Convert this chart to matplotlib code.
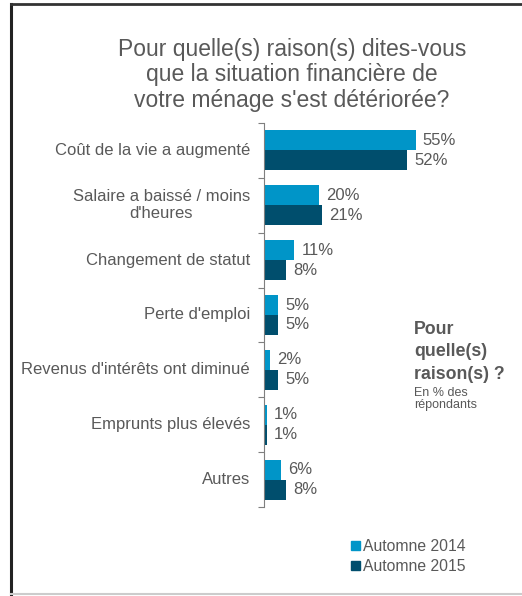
import matplotlib.pyplot as plt
import numpy as np
from matplotlib.patches import Patch
from matplotlib.lines import Line2D

plt.rcParams['font.family'] = ['Liberation Sans', 'DejaVu Sans']

categories = ["Coût de la vie a augmenté", "Salaire a baissé / moins\nd'heures",
              "Changement de statut", "Perte d'emploi",
              "Revenus d'intérêts ont diminué", "Emprunts plus élevés", "Autres"]
automne_2014 = [55, 20, 11, 5, 2, 1, 6]
automne_2015 = [52, 21, 8, 5, 5, 1, 8]
series_labels = ["Automne 2014", "Automne 2015"]

c14 = '#0095C8'
c15 = '#004E6D'
grey = '#595959'

fig = plt.figure(figsize=(5.22, 5.96), dpi=100)
ax = fig.add_axes([264/522, 89/596, 251/522, 384/596])

y = np.arange(len(categories))
h = 0.364
ax.barh(y - h/2, automne_2014, height=h, color=c14)
ax.barh(y + h/2, automne_2015, height=h, color=c15)
for i in range(len(categories)):
    ax.text(automne_2014[i] + 2.6, y[i] - h/2, f"{automne_2014[i]}%", va='center',
            ha='left', fontsize=12, color=grey)
    ax.text(automne_2015[i] + 2.6, y[i] + h/2, f"{automne_2015[i]}%", va='center',
            ha='left', fontsize=12, color=grey)

ax.set_xlim(0, 91)
ax.set_ylim(len(categories) - 0.5, -0.5)
for s in ['top', 'right', 'bottom']:
    ax.spines[s].set_visible(False)
ax.spines['left'].set_color('#7f7f7f')
ax.set_xticks([])
ax.set_yticks(np.arange(-0.5, len(categories), 1))
ax.set_yticklabels([])
ax.tick_params(axis='y', length=4, color='#7f7f7f', direction='out')
for i, c in enumerate(categories):
    ax.annotate(c, xy=(0, y[i]), xycoords=('axes fraction', 'data'),
                xytext=(-10, 0), textcoords='offset points',
                ha='right', va='center', fontsize=12, color=grey,
                multialignment='center', linespacing=1.2)

fig.text(292/522, 1 - 75/596, "Pour quelle(s) raison(s) dites-vous\nque la situation financière de\nvotre ménage s'est détériorée?",
         ha='center', va='center', fontsize=16.5, color=grey, linespacing=1.12)

fig.text(414/522, 1 - 352/596, "Pour\nquelle(s)\nraison(s) ?", ha='left', va='center',
         fontsize=12.8, fontweight='bold', color=grey, linespacing=1.4)
fig.text(414/522, 1 - 399/596, "En % des\nrépondants", ha='left', va='center',
         fontsize=9, color=grey, linespacing=1.1)

handles = [Patch(color=c14), Patch(color=c15)]
fig.legend(handles, series_labels, loc='upper left', bbox_to_anchor=(337/522, 1 - 525/596),
           frameon=False, fontsize=11.3, handlelength=0.55, handleheight=0.55,
           handletextpad=0.2, labelspacing=0.3, labelcolor=grey)

# frame around the picture
fig.add_artist(Line2D([11/522, 11/522], [1 - 4/596, 1 - 594/596], color='#222222', lw=2.2,
                      transform=fig.transFigure))
fig.add_artist(Line2D([11/522, 1], [1 - 4/596, 1 - 4/596], color='#333333', lw=2,
                      transform=fig.transFigure))
fig.add_artist(Line2D([11/522, 1], [1 - 594/596, 1 - 594/596], color='#cccccc', lw=1.5,
                      transform=fig.transFigure))

fig.savefig('out.png', dpi=100)
